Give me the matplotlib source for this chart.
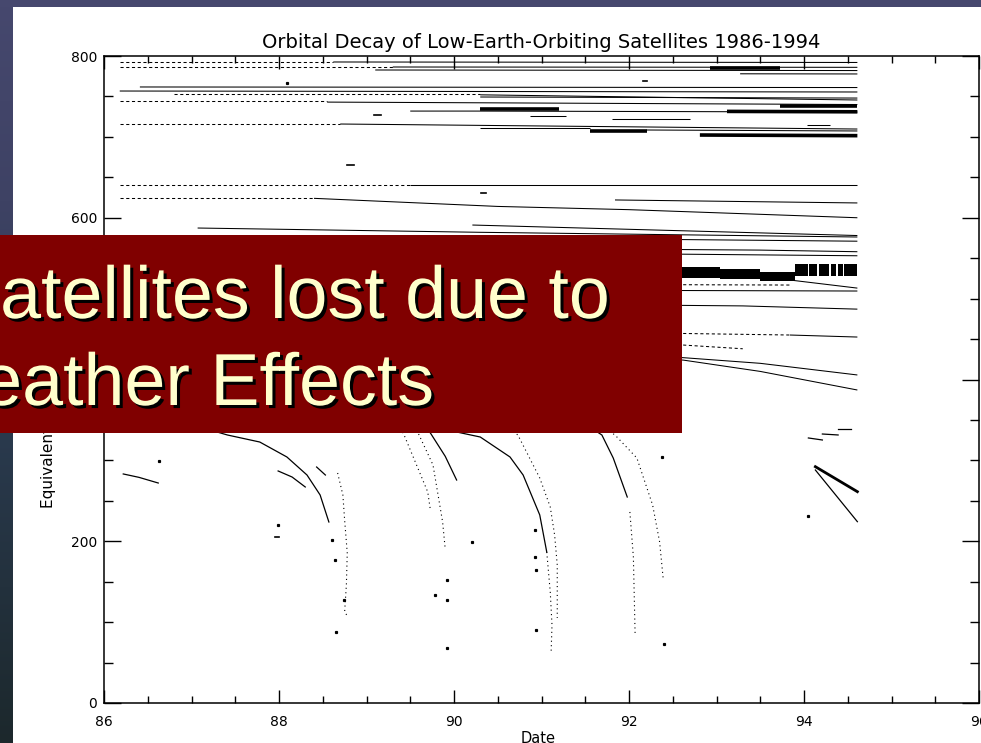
import numpy as np
import matplotlib
matplotlib.use("Agg")
import matplotlib.pyplot as plt
from matplotlib.patches import Rectangle
from matplotlib.ticker import MultipleLocator
import matplotlib.patheffects as pe

W, H = 981, 743

# ---------------- data ----------------
title = "Orbital Decay of Low-Earth-Orbiting Satellites 1986-1994"
x_label = "Date"
y_label = "Equivalent Altitude (km)"
box_lines = ["Satellites lost due to", "Weather Effects"]
x_ticks = [86, 88, 90, 92, 94, 96]
y_ticks = [0, 200, 400, 600, 800]

# continuously tracked near-circular orbits: (date, altitude km)
solid_tracks = [
    [(88.62, 792.6), (94.61, 792.0)],
    [(89.30, 786.4), (94.61, 786.0)],
    [(89.10, 782.7), (94.61, 782.0)],
    [(93.27, 778.0), (94.61, 777.8)],
    [(86.41, 761.7), (94.61, 761.0)],
    [(86.18, 756.7), (94.61, 755.5)],
    [(90.30, 749.3), (94.61, 748.0)],
    [(90.30, 752.0), (94.61, 745.6)],
    [(88.55, 743.0), (90.80, 741.9), (94.61, 740.0)],
    [(89.50, 731.9), (90.30, 731.9), (94.61, 730.7)],
    [(90.87, 725.8), (91.28, 725.8)],
    [(91.80, 721.5), (92.70, 721.5)],
    [(88.70, 715.9), (94.61, 709.7)],
    [(94.03, 714.7), (94.30, 714.7)],
    [(90.30, 710.9), (91.55, 710.9)],
    [(92.20, 708.5), (94.61, 707.3)],
    [(89.50, 640.5), (94.61, 640.5)],
    [(88.40, 624.0), (90.50, 614.0), (92.00, 610.0), (94.61, 600.0)],
    [(91.84, 622.0), (94.61, 618.3)],
    [(90.21, 591.0), (94.61, 578.0)],
    [(87.07, 587.3), (90.30, 582.0), (94.61, 576.2)],
    [(89.00, 576.0), (92.62, 573.0), (94.61, 571.0)],
    [(89.50, 563.0), (93.50, 560.0), (94.61, 558.0)],
    [(90.00, 557.5), (94.61, 553.0)],
    [(93.84, 523.0), (94.61, 513.0)],
    [(89.50, 511.0), (94.61, 509.4)],
    [(89.00, 495.0), (93.30, 491.0), (94.61, 487.0)],
    [(93.84, 455.0), (94.61, 452.5)],
    [(90.00, 440.0), (92.62, 427.0), (93.50, 420.0), (94.61, 405.6)],
    [(90.00, 438.0), (92.62, 424.0), (93.50, 410.0), (94.61, 387.0)],
]

# sparsely tracked orbits
sparse_tracks = [
    [(86.18, 792.6), (88.62, 792.6)],
    [(86.18, 786.4), (89.30, 786.4)],
    [(86.80, 753.0), (90.30, 753.0)],
    [(86.18, 744.3), (88.55, 744.3)],
    [(86.18, 716.0), (88.70, 716.0)],
    [(86.18, 640.5), (89.50, 640.5)],
    [(86.18, 624.5), (88.40, 624.5)],
    [(90.00, 518.0), (93.84, 516.8)],
    [(90.00, 461.0), (93.84, 455.0)],
    [(90.00, 446.0), (92.62, 442.6), (93.30, 438.0)],
]

# densely overlapping groups
thick_tracks = [
    [(92.93, 785.0), (93.73, 785.0)],
    [(93.73, 738.1), (94.61, 738.1)],
    [(93.12, 731.5), (94.61, 731.0)],
    [(90.30, 734.4), (91.20, 734.4)],
    [(91.55, 707.0), (92.20, 707.0)],
    [(92.81, 702.3), (94.61, 701.5)],
]

# constellation band near 530 km
band_dates = [91.80, 93.04, 93.50, 93.90]
band_low = [525.5, 524.0, 522.0, 522.0]
band_high = [539.0, 536.6, 533.0, 533.0]
band_blocks = [(93.90, 94.04), (94.06, 94.15), (94.17, 94.29),
               (94.31, 94.37), (94.39, 94.44), (94.46, 94.61)]
block_low = 528.0
block_high = 543.0

# decaying satellites
decay_solid = [
    [(86.22, 283.2), (86.40, 279.0), (86.62, 272.0)],
    [(86.90, 345.0), (87.20, 338.0), (87.41, 331.4), (87.78, 322.7), (88.09, 304.2),
     (88.32, 281.9), (88.47, 257.2), (88.57, 223.8)],
    [(87.99, 286.9), (88.15, 279.4), (88.30, 267.1)],
    [(88.43, 291.8), (88.53, 281.9)],
    [(89.55, 350.0), (89.73, 333.9), (89.90, 305.0), (90.03, 275.7)],
    [(89.60, 345.0), (90.30, 328.9), (90.64, 304.2), (90.79, 281.9), (90.98, 232.5),
     (91.06, 186.7)],
    [(91.50, 345.0), (91.69, 331.4), (91.82, 302.9), (91.98, 254.7)],
    [(94.05, 327.7), (94.21, 325.2)],
    [(94.21, 332.6), (94.39, 331.4)],
    [(94.39, 338.8), (94.54, 338.8)],
    [(94.13, 288.1), (94.61, 224.2)],
]
decay_thick = [
    [(94.13, 292.2), (94.61, 261.3)],
]
decay_sparse = [
    [(88.67, 284.4), (88.73, 257.2), (88.75, 226.3), (88.78, 185.5), (88.77, 145.9),
     (88.75, 112.5), (88.79, 106.3)],
    [(89.20, 350.0), (89.42, 333.9), (89.55, 300.0), (89.70, 260.9), (89.73, 238.6)],
    [(89.40, 350.0), (89.59, 333.9), (89.76, 294.3), (89.87, 223.8), (89.90, 190.0)],
    [(91.06, 186.7), (91.10, 137.3), (91.12, 96.4), (91.11, 63.1)],
    [(90.55, 345.0), (90.73, 331.4), (90.98, 278.2), (91.10, 242.4), (91.15, 207.7),
     (91.18, 170.6), (91.18, 105.1)],
    [(92.01, 236.2), (92.05, 180.5), (92.07, 84.1)],
    [(91.65, 345.0), (91.84, 331.4), (92.09, 302.9), (92.27, 244.8), (92.35, 199.1),
     (92.39, 154.6)],
]

short_dashes = [(88.78, 88.86, 665.2), (89.09, 89.16, 727.0), (90.31, 90.37, 630.6),
                (92.16, 92.21, 769.7), (87.95, 88.00, 205.3)]

dot_dates = [86.63, 88.61, 88.64, 88.74, 88.65, 87.99, 89.92, 89.92, 89.78, 89.92,
             90.21, 90.93, 90.93, 90.94, 90.94, 92.40, 92.38, 94.05, 88.09]
dot_alts = [299.2, 201.5, 176.8, 127.4, 87.8, 220.1, 152.1, 127.4, 133.5, 68.0,
            199.1, 213.9, 180.5, 164.5, 90.3, 73.0, 304.2, 231.2, 766.7]

# ---------------- figure ----------------
fig = plt.figure(figsize=(W / 100, H / 100), dpi=100)
fig.patch.set_facecolor("white")

# slide background strips
bg = fig.add_axes([0, 0, 13 / W, 1])
stops_y = [0, 200, 430, 743]
stops_c = np.array([[70, 72, 110], [62, 66, 100], [42, 58, 78], [28, 40, 44]]) / 255.0
yy = np.arange(H)
grad = np.stack([np.interp(yy, stops_y, stops_c[:, k]) for k in range(3)], axis=-1)
bg.imshow(grad[:, None, :], aspect="auto", extent=[0, 1, H, 0])
bg.set_axis_off()
fig.patches.append(Rectangle((0, 1 - 7 / H), 1, 7 / H, transform=fig.transFigure,
                             facecolor="#46486e", edgecolor="none", zorder=5))

ax = fig.add_axes([104 / W, 1 - 703 / H, (979 - 104) / W, (703 - 56) / H])
ax.set_xlim(86, 96)
ax.set_ylim(0, 800)

def xy(track):
    a = np.array(track)
    return a[:, 0], a[:, 1]

for t in solid_tracks:
    ax.plot(*xy(t), color="black", lw=0.75, solid_capstyle="butt")
for t in sparse_tracks:
    ax.plot(*xy(t), color="black", lw=0.75, linestyle=(0, (3, 2.5)))
for t in thick_tracks:
    ax.plot(*xy(t), color="black", lw=2.6, solid_capstyle="butt")
ax.fill_between(band_dates, band_low, band_high, step="post", color="black", lw=0)
for a0, a1 in band_blocks:
    ax.fill_between([a0, a1], [block_low] * 2, [block_high] * 2, color="black", lw=0)
for t in decay_solid:
    ax.plot(*xy(t), color="black", lw=0.9)
for t in decay_thick:
    ax.plot(*xy(t), color="black", lw=2.0)
for t in decay_sparse:
    ax.plot(*xy(t), color="black", lw=0.8, linestyle=(0, (1, 3)))
for d0, d1, a in short_dashes:
    ax.plot([d0, d1], [a, a], color="black", lw=1.2)
ax.plot(dot_dates, dot_alts, linestyle="none", marker="s", ms=1.3, color="black")

ax.set_xticks(x_ticks)
ax.set_yticks(y_ticks)
ax.xaxis.set_minor_locator(MultipleLocator(0.5))
ax.yaxis.set_minor_locator(MultipleLocator(50))
ax.tick_params(which="both", direction="in", top=True, right=True, width=1.0,
               labelsize=10, colors="black")
ax.tick_params(axis="x", which="major", length=9.4, pad=9)
ax.tick_params(axis="x", which="minor", length=5)
ax.tick_params(axis="y", which="major", length=12.5, pad=5)
ax.tick_params(axis="y", which="minor", length=6.5)
for s in ax.spines.values():
    s.set_linewidth(1.1)

fig.text(541 / W, 1 - 43 / H, title, ha="center", va="center", fontsize=14,
         family="DejaVu Sans")
fig.text(538 / W, 1 - 731 / H, x_label, ha="center", va="top", fontsize=10.5)
fig.text(49 / W, 1 - 508 / H, y_label, ha="center", va="bottom", rotation=90,
         fontsize=11)

# overlay box
fig.patches.append(Rectangle((0, 1 - 433 / H), 682 / W, 198 / H, transform=fig.transFigure,
                             facecolor="#800000", edgecolor="none", zorder=10))
effects = [pe.withSimplePatchShadow(offset=(2.2, -2.2), shadow_rgbFace="black", alpha=1.0)]
fig.text(-49 / W, 1 - 318 / H, box_lines[0], ha="left", va="baseline", fontsize=53,
         family="Liberation Sans", color="#FFFFCC", path_effects=effects, zorder=11)
fig.text(-87 / W, 1 - 405 / H, box_lines[1], ha="left", va="baseline", fontsize=53,
         family="Liberation Sans", color="#FFFFCC", path_effects=effects, zorder=11)

fig.savefig("out.png", dpi=100)
